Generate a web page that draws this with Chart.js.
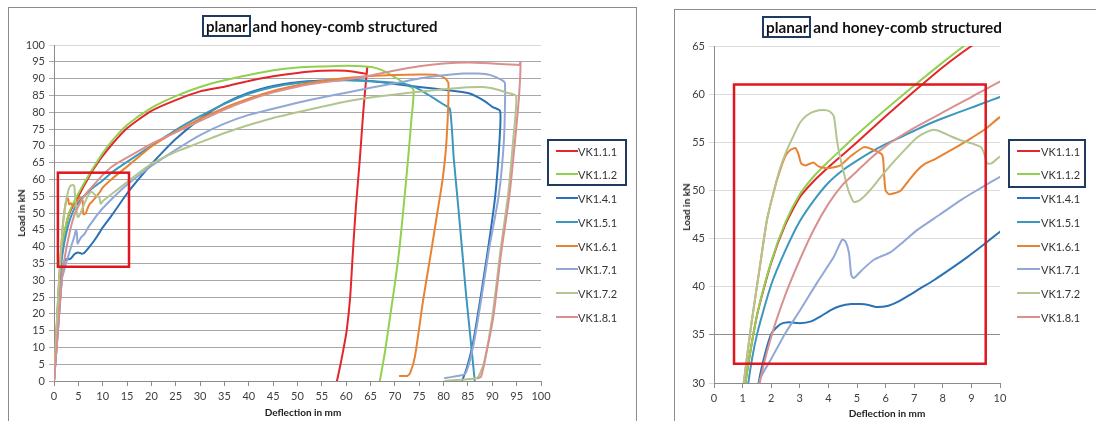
<!DOCTYPE html>
<html>
<head>
<meta charset="utf-8">
<script src="https://cdn.jsdelivr.net/npm/chart.js@4.4.0/dist/chart.umd.min.js"></script>
<style>
  html,body{margin:0;padding:0;background:#fff;}
  body{width:1096px;height:421px;position:relative;overflow:hidden;font-family:Lato,"Open Sans",sans-serif;}
  .frame{position:absolute;border:1px solid #8c8c8c;box-sizing:border-box;}
  .title{position:absolute;white-space:nowrap;font:bold 15px Lato,sans-serif;color:#111;line-height:18px;}
  .title .bx{border:2px solid #1f3a5f;padding:0 1px 0 2px;margin-right:2px;display:inline-block;line-height:18px;}
  .axt{position:absolute;white-space:nowrap;font:bold 10px Lato,sans-serif;color:#222;transform:translate(-50%,-50%);}
  .axt.rot{transform:translate(-50%,-50%) rotate(-90deg);}
  .lg{position:absolute;white-space:nowrap;font:11px Lato,sans-serif;color:#333;}
  .lg .ln{position:absolute;height:2px;}
  .lg .tx{position:absolute;transform:translateY(-50%);}
  .lbox{position:absolute;border:2px solid #1f3a5f;box-sizing:border-box;}
  canvas{position:absolute;top:0;}
</style>
</head>
<body>
<div class="frame" style="left:8px;top:7px;width:629px;height:430px;"></div>
<div class="frame" style="left:674px;top:9px;width:440px;height:430px;"></div>

<canvas id="c1" width="560" height="421" style="left:0px;"></canvas>
<canvas id="c2" width="380" height="421" style="left:640px;"></canvas>

<div class="title" style="left:202px;top:15px;"><span class="bx">planar</span>and honey-comb structured</div>
<div class="title" style="left:762px;top:16px;font-size:15.3px;"><span class="bx">planar</span>and honey-comb structured</div>

<div class="axt rot" style="left:21px;top:213px;">Load in kN</div>
<div class="axt" style="left:303px;top:412px;">Deflection in mm</div>
<div class="axt rot" style="left:686px;top:207px;">Load in kN</div>
<div class="axt" style="left:887px;top:413px;">Deflection in mm</div>

<div id="leg1"></div>
<div id="leg2"></div>
<div class="lbox" style="left:547px;top:139px;width:80px;height:47px;"></div>
<div class="lbox" style="left:1008px;top:139px;width:78px;height:49px;"></div>

<script>
// ---------------- data ----------------
const NAMES = ['VK1.1.1','VK1.1.2','VK1.4.1','VK1.5.1','VK1.6.1','VK1.7.1','VK1.7.2','VK1.8.1'];

const VK111 = [[0,0],[0.55,15],[1.1,30],[1.5,37],[2,42.5],[2.5,46.5],[3,49.3],[3.5,51],[4,52.4],[4.5,53.7],[5,55],[6,57.7],[7,60.3],[8,62.8],[9,65],[10,67],[12,70.6],[15,75.2],[20,80.4],[25,83.6],[30,86.2],[35,87.6],[40,89.3],[45,90.7],[50,91.7],[55,92.3],[60,92.3],[63.5,91.6],[64.2,91.5],[64.3,93.2],[63.5,80],[62.8,66],[62,52],[61.4,39],[60.8,24.7],[60.1,15],[59.4,9.2],[58.7,4],[58.1,0]];
const VK112 = [[0,0],[0.55,15],[1.1,30],[1.5,37],[2,42.6],[2.5,46.7],[3,49.6],[3.5,51.5],[4,53],[4.5,54.4],[5,55.8],[6,58.4],[7,60.9],[8,63.3],[9,65.6],[10,67.8],[12,71.6],[15,76.2],[20,81.3],[25,84.8],[30,87.5],[35,89.5],[40,91.1],[45,92.5],[50,93.3],[55,93.6],[60,93.8],[64,93.6],[66,93.2],[68,92.1],[70,90.4],[72,88.6],[73.8,86.8],[73.4,78],[72.7,66],[71.8,52],[70.9,39],[70,29],[69,19],[68,9],[67.4,4],[66.9,0]];
const VK141 = [[0,0],[0.8,15],[1.56,30],[1.8,33.2],[2.02,35.2],[2.32,36.1],[2.6,36.3],[3,36.2],[3.4,36.4],[3.72,36.9],[4.1,37.6],[4.42,38],[4.8,38.2],[5.12,38.2],[5.4,38.1],[5.65,37.9],[6.06,38],[6.4,38.4],[6.76,39],[7.2,39.8],[7.7,40.7],[8.3,41.9],[8.87,43.1],[9.4,44.3],[10,45.7],[12,49.6],[15,55.8],[17.5,60.3],[20,64.5],[22.5,68.4],[25,72],[30,78],[35,82.6],[40,85.8],[45,87.8],[50,88.9],[55,89.4],[60,89.6],[65,89.3],[70,88.4],[75,87.5],[80,86.7],[85,85.7],[87,84.5],[88.5,83.2],[90,81.6],[91.6,80.4],[91.5,72],[90.6,55],[89.1,39],[87.5,24],[86,11],[84.8,4],[83.8,0]];
const VK151 = [[0,0],[0.6,15],[1.2,30],[1.5,35],[2,40.2],[2.5,43.8],[3,46.8],[3.5,49],[4,50.8],[4.5,52.1],[5,53.1],[5.5,54],[6,54.8],[6.5,55.5],[7,56.2],[7.5,56.9],[8,57.5],[9,58.6],[10,59.7],[12,62.2],[15,65.2],[20,70],[25,74.7],[30,78.8],[35,82.5],[40,85.5],[45,87.5],[50,88.7],[55,89.3],[60,89.5],[65,89.2],[70,88.8],[73,88],[75,86.8],[77.5,84.6],[80,82.3],[81.3,81],[82.1,66],[83,52],[83.8,39],[84.6,26],[85.5,13],[86.4,0]];
const VK161 = [[0,0],[0.5,15],[1.04,30],[1.3,36],[1.6,42],[1.85,46.9],[2.1,50],[2.3,52],[2.5,53.6],[2.67,54.2],[2.85,54.4],[2.95,53.8],[3.05,52.8],[3.2,52.6],[3.48,52.9],[3.65,52.5],[3.95,52.3],[4.2,52.4],[4.42,52.6],[4.8,53.6],[5.24,54.5],[5.5,54.3],[5.88,53.7],[5.95,51.5],[6,50],[6.12,49.6],[6.3,49.7],[6.53,50],[6.8,51],[7.11,52.1],[7.4,52.8],[7.7,53.2],[8.3,54.2],[8.87,55.2],[9.5,56.4],[10,57.6],[12,60.3],[15,63.8],[17.5,66.8],[20,69.8],[25,74.2],[30,78],[35,81.3],[40,84],[45,86.3],[50,88],[55,89.3],[60,90.2],[65,90.8],[70,91.1],[75,91.2],[78.6,91.1],[80.3,90.1],[81,88.6],[80.6,71.7],[79.8,60],[78.7,50],[77.5,39],[75.8,24.1],[74.1,7.2],[73.1,2.3],[72.5,1.5],[71,1.5]];
const VK171 = [[0,0],[0.8,15],[1.6,30.3],[2,32.5],[2.5,35.2],[3.02,37.6],[3.6,40.4],[4.19,43.1],[4.48,44.9],[4.6,44.7],[4.72,43.5],[4.8,41.2],[4.89,40.9],[5.2,41.8],[5.59,42.8],[6.18,43.6],[6.6,44.6],[7.11,45.9],[7.9,47.5],[8.63,49],[9.3,50.2],[10,51.4],[12,54.4],[15,58.4],[20,64],[25,68.8],[30,73.2],[35,76.6],[40,79.2],[45,81],[50,82.8],[55,84.4],[60,85.8],[65,87.3],[70,88.6],[75,90],[80,91],[84,91.5],[87,91.5],[89.5,91.1],[91.9,89.6],[92.6,88.6],[92.4,72],[91.3,55],[89.3,39],[87.8,25],[86.3,12],[85.2,5],[84.3,2],[82,1.3],[80.3,0.9]];
const VK172 = [[0,0],[0.5,15],[1.04,30],[1.3,36],[1.6,42],[1.85,46.9],[2.1,50],[2.3,52.2],[2.55,54.2],[2.8,55.8],[3,57],[3.25,57.8],[3.5,58.2],[3.84,58.35],[4.05,58.2],[4.19,57.7],[4.3,55.2],[4.42,53.3],[4.54,51.8],[4.7,50],[4.89,48.8],[5.1,49],[5.36,49.7],[5.65,50.7],[5.94,51.8],[6.35,53.2],[6.76,54.5],[7.1,55.5],[7.46,56.1],[7.7,56.3],[7.93,56.1],[8.3,55.6],[8.63,55.2],[9,54.9],[9.33,54.5],[9.45,53.8],[9.55,52.8],[9.7,52.8],[10,53.5],[12,55.8],[15,59.2],[20,64.6],[25,68.2],[30,71],[35,73.8],[40,76.2],[45,78.3],[50,80],[55,81.6],[60,83.2],[65,84.4],[70,85.3],[75,86.1],[80,86.8],[85,87.4],[88,87.5],[90,87.1],[93,85.8],[94.9,84.8],[94.3,72],[93.2,55],[91.7,39],[90,19],[88.4,6],[87.5,2.3],[86.8,0.8],[83.5,0.4],[80.3,0]];
const VK181 = [[0,0],[0.8,15],[1.6,30],[2,34.8],[2.5,39.2],[3,42.8],[3.5,46],[4,48.6],[4.5,50.6],[5,52],[5.5,53.4],[6,54.6],[6.5,55.6],[7,56.5],[7.5,57.3],[8,58.1],[9,59.7],[10,61.3],[12,63.9],[15,66.5],[20,70.6],[25,74],[30,77.4],[35,80.8],[40,83.6],[45,85.9],[50,87.6],[55,88.8],[60,89.7],[65,90.9],[70,92.4],[75,93.7],[80,94.5],[85,94.8],[90,94.5],[95,94.1],[95.5,94.1],[95.8,94.8],[95.5,85],[94.7,72],[93.5,55],[91.9,39],[90.2,19],[88.5,6.2],[87.7,1.3],[87.1,0.8]];

const SERIES = [VK111, VK112, VK141, VK151, VK161, VK171, VK172, VK181];

// highlighted regions (data coordinates)
const BOX_LEFT  = {x0:0.8, x1:15.4, y0:34, y1:62};
const BOX_RIGHT = {x0:0.7, x1:9.5,  y0:32, y1:61};

// ---------------- styles ----------------
const COLORS = ['#e3262b','#92d050','#2a71b5','#3c97be','#e98332','#91a8d6','#b3c58f','#d9908f'];
const FONT = {family:'Lato', size:11};
const TICK_COLOR = '#404040';

function makeDatasets(){
  return SERIES.map((s,i)=>({
    label: NAMES[i],
    data: s.map(p=>({x:p[0], y:p[1]})),
    borderColor: COLORS[i],
    backgroundColor: COLORS[i],
    borderWidth: 2,
    pointRadius: 0,
    showLine: true,
    tension: 0.2,
    borderJoinStyle: 'round',
    borderCapStyle: 'round',
    order: SERIES.length - i
  }));
}

const redBox = {
  id:'redBox',
  afterDatasetsDraw(chart, args, opts){
    const {ctx, scales:{x,y}} = chart;
    const b = opts.box; if(!b) return;
    const px0 = x.getPixelForValue(b.x0), px1 = x.getPixelForValue(b.x1);
    const py0 = y.getPixelForValue(b.y0), py1 = y.getPixelForValue(b.y1);
    ctx.save();
    ctx.strokeStyle = '#e0161f';
    ctx.lineWidth = 2.5;
    ctx.strokeRect(px0, py1, px1-px0, py0-py1);
    ctx.restore();
  }
};

function makeChart(id, cfg){
  return new Chart(document.getElementById(id), {
    type:'scatter',
    data:{datasets:makeDatasets()},
    plugins:[redBox],
    options:{
      responsive:false, animation:false, devicePixelRatio:1,
      layout:{padding:cfg.padding},
      plugins:{legend:{display:false}, tooltip:{enabled:false}, redBox:{box:cfg.box}},
      scales:{
        x:{type:'linear', min:cfg.xmin, max:cfg.xmax,
           ticks:{stepSize:cfg.xstep, font:FONT, color:TICK_COLOR, padding:4, maxRotation:0, autoSkip:false},
           grid:{drawOnChartArea:false, drawTicks:true, tickLength:5, color:'#8c8c8c'},
           border:{color:'#8c8c8c'},
           afterFit(s){ s.height = cfg.xh; }},
        y:{type:'linear', min:cfg.ymin, max:cfg.ymax,
           ticks:{stepSize:cfg.ystep, font:FONT, color:TICK_COLOR, padding:4},
           grid:{color:cfg.gridColor, tickLength:5},
           border:{color:'#8c8c8c'},
           afterFit(s){ s.width = 40; }}
      }
    }
  });
}

makeChart('c1', {
  padding:{left:14, top:45, right:19, bottom:0}, xh:40,
  xmin:0, xmax:100, xstep:5, ymin:0, ymax:100, ystep:5, box:BOX_LEFT,
  gridColor:(c)=> (c.tick && c.tick.value===100) ? '#d9d9d9' : '#a8a8a8'
});
makeChart('c2', {
  padding:{left:34, top:46, right:20, bottom:0}, xh:38,
  xmin:0, xmax:10, xstep:1, ymin:30, ymax:65, ystep:5, box:BOX_RIGHT,
  gridColor:(c)=> (c.tick && c.tick.value===35) ? '#8c8c8c' : '#dcdcdc'
});

// ---------------- legends (HTML) ----------------
const LEG_ROWS = [151,174,198,222,246,269,293,317];
function buildLegend(id, lineX, lineW, textX){
  const host = document.getElementById(id);
  NAMES.forEach((n,i)=>{
    const ln = document.createElement('div');
    ln.className='lg';
    ln.innerHTML = '<div class="ln" style="left:'+lineX+'px;top:'+(LEG_ROWS[i]-1)+'px;width:'+lineW+'px;background:'+COLORS[i]+'"></div>'+
                   '<div class="tx" style="left:'+textX+'px;top:'+LEG_ROWS[i]+'px;">'+n+'</div>';
    host.appendChild(ln);
  });
}
buildLegend('leg1', 556, 22, 578);
buildLegend('leg2', 1017, 23, 1041);
</script>
</body>
</html>
